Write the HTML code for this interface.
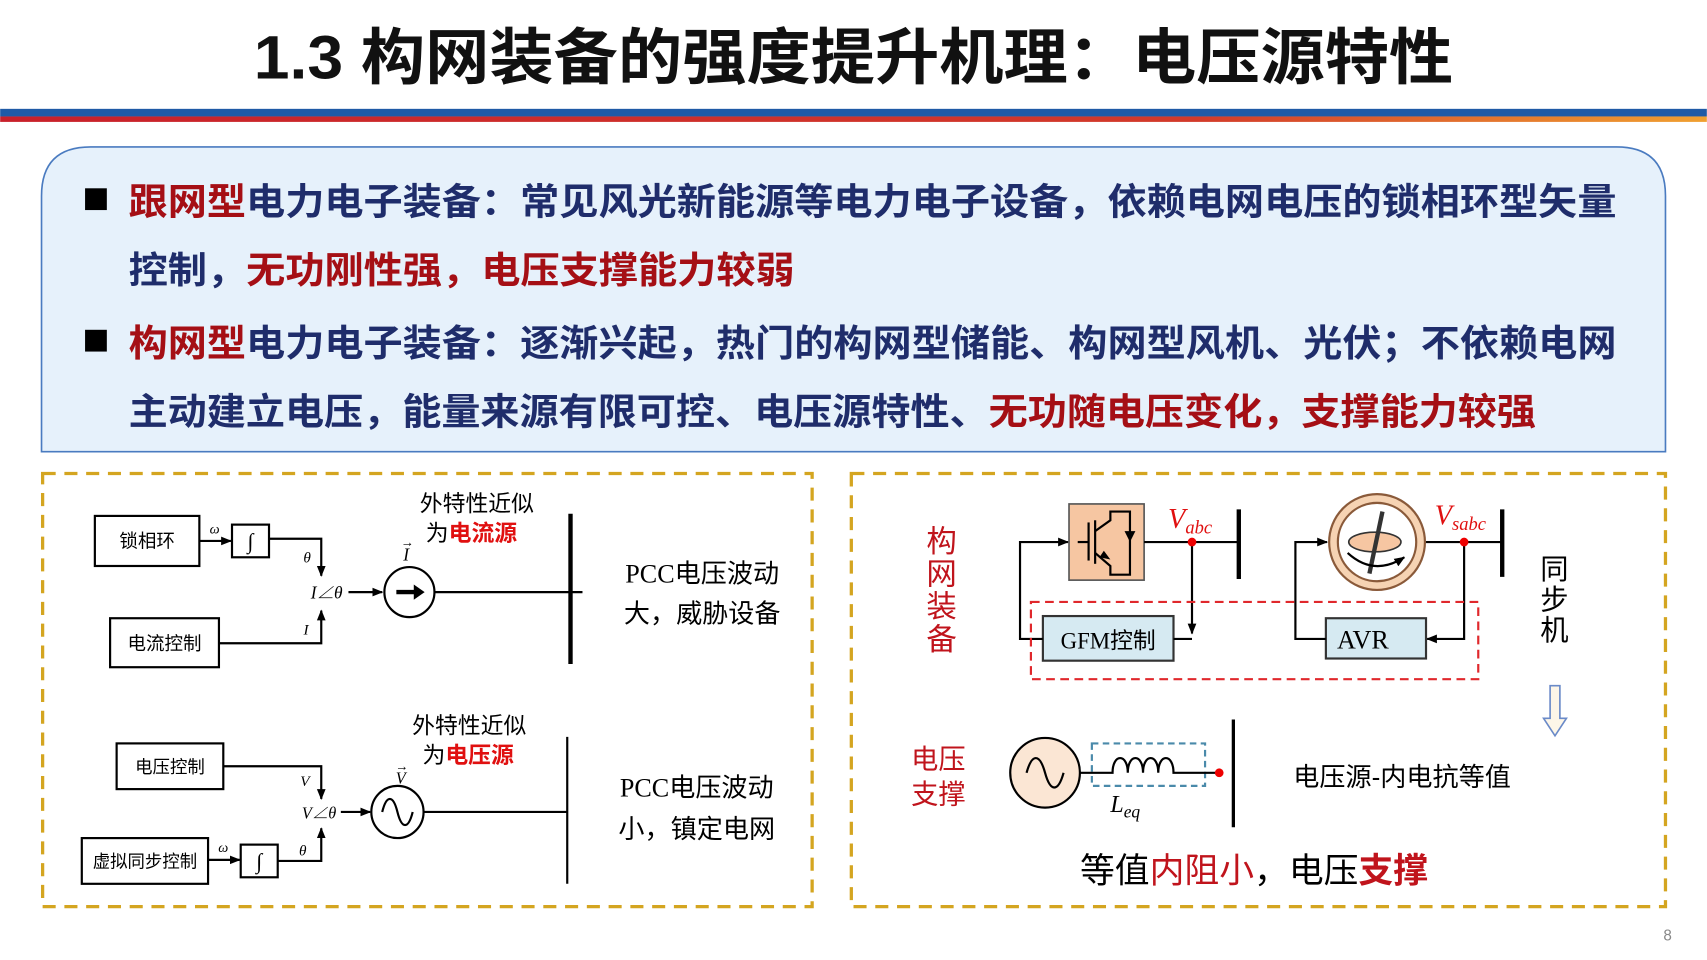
<!DOCTYPE html>
<html><head><meta charset="utf-8"><style>
html,body{margin:0;padding:0;background:#fff;}
svg{display:block;}
text{font-family:"Liberation Sans","Noto Sans CJK SC",sans-serif;}
.b{font-weight:bold;}
.nv{fill:#1f2d6b;}
.rd{fill:#a50f15;}
.cr{fill:#e01010;}
.ser{font-family:"Liberation Serif","Noto Serif CJK SC",serif;}
</style></head><body>
<svg width="1707" height="960" viewBox="0 0 1568 882" xmlns="http://www.w3.org/2000/svg">
<defs>
<marker id="ah" markerWidth="10" markerHeight="10" refX="9" refY="5" orient="auto" markerUnits="userSpaceOnUse"><path d="M0,1 L10,5 L0,9 z" fill="#000"/></marker>
<linearGradient id="og" x1="0" x2="1"><stop offset="0" stop-color="#c8202a"/><stop offset="0.7" stop-color="#d23a2a"/><stop offset="1" stop-color="#f0a030"/></linearGradient>
</defs>
<!-- title -->
<text x="784" y="72" text-anchor="middle" font-size="56" class="b" fill="#111" textLength="1102" lengthAdjust="spacingAndGlyphs">1.3 构网装备的强度提升机理：电压源特性</text>
<rect x="0" y="100" width="1568" height="7" fill="#1f5aa6"/>
<rect x="0" y="107" width="1568" height="5" fill="url(#og)"/>
<!-- blue panel -->
<path d="M38,415 L38,180 Q38,135 83,135 L1485,135 Q1530,135 1530,180 L1530,415 Z" fill="#e6f1fb" stroke="#4a7bc0" stroke-width="1.5"/>
<rect x="78" y="173" width="20" height="20" fill="#000"/>
<text x="118" y="197" font-size="34" class="b" textLength="1367" lengthAdjust="spacingAndGlyphs"><tspan class="rd">跟网型</tspan><tspan class="nv">电力电子装备：常见风光新能源等电力电子设备，依赖电网电压的锁相环型矢量</tspan></text>
<text x="118" y="260" font-size="34" class="b" textLength="612" lengthAdjust="spacingAndGlyphs"><tspan class="nv">控制，</tspan><tspan class="rd">无功刚性强，电压支撑能力较弱</tspan></text>
<rect x="78" y="303" width="20" height="20" fill="#000"/>
<text x="118" y="327" font-size="34" class="b" textLength="1367" lengthAdjust="spacingAndGlyphs"><tspan class="rd">构网型</tspan><tspan class="nv">电力电子装备：逐渐兴起，热门的构网型储能、构网型风机、光伏；不依赖电网</tspan></text>
<text x="118" y="390" font-size="34" class="b" textLength="1293" lengthAdjust="spacingAndGlyphs"><tspan class="nv">主动建立电压，能量来源有限可控、电压源特性、</tspan><tspan class="rd">无功随电压变化，支撑能力较强</tspan></text>

<!-- dashed boxes -->
<rect x="39" y="435" width="707" height="398" fill="none" stroke="#d4a520" stroke-width="3" stroke-dasharray="12,8"/>
<rect x="782" y="435" width="748" height="398" fill="none" stroke="#d4a520" stroke-width="3" stroke-dasharray="12,8"/>

<!-- LEFT TOP -->
<g stroke="#000" stroke-width="2" fill="none">
<rect x="87" y="474" width="96" height="46" fill="#fff"/>
<line x1="183" y1="497" x2="212" y2="497" marker-end="url(#ah)"/>
<rect x="213" y="482" width="34" height="30" fill="#fff"/>
<polyline points="247,495 295,495 295,529" marker-end="url(#ah)"/>
<line x1="320" y1="544" x2="351" y2="544" marker-end="url(#ah)"/>
<circle cx="376" cy="544" r="23"/>
<line x1="399" y1="544" x2="535" y2="544"/>
<rect x="101" y="568" width="100" height="45" fill="#fff"/>
<polyline points="201,591 295,591 295,561" marker-end="url(#ah)"/>
</g>
<path d="M364,544 L382,544" stroke="#000" stroke-width="4"/><path d="M380,537 L390,544 L380,551z" fill="#000"/>
<line x1="524" y1="472" x2="524" y2="610" stroke="#000" stroke-width="4"/>
<text x="135" y="503" font-size="17" text-anchor="middle">锁相环</text>
<text x="151" y="597" font-size="17" text-anchor="middle">电流控制</text>
<text x="197" y="490" font-size="13" class="ser" font-style="italic" text-anchor="middle">ω</text>
<text x="230" y="504" font-size="20" class="ser" font-style="italic" text-anchor="middle">∫</text>
<text x="282" y="517" font-size="14" class="ser" font-style="italic" text-anchor="middle">θ</text>
<text x="281" y="583" font-size="14" class="ser" font-style="italic" text-anchor="middle">I</text>
<text x="300" y="550" font-size="16" class="ser" font-style="italic" text-anchor="middle">I∠θ</text>
<text x="373" y="515" font-size="16" class="ser" font-style="italic" text-anchor="middle">I</text>
<text x="374" y="502" font-size="12" text-anchor="middle">→</text>
<text x="438" y="470" font-size="21" text-anchor="middle">外特性近似</text>
<text x="433" y="497" font-size="21" text-anchor="middle">为<tspan class="b cr">电流源</tspan></text>
<text x="645" y="535" font-size="24" text-anchor="middle"><tspan class="ser">PCC</tspan>电压波动</text>
<text x="645" y="572" font-size="24" text-anchor="middle">大，威胁设备</text>

<!-- LEFT BOTTOM -->
<g stroke="#000" stroke-width="2" fill="none">
<rect x="107" y="683" width="98" height="42" fill="#fff"/>
<polyline points="205,704 295,704 295,734" marker-end="url(#ah)"/>
<line x1="313" y1="746" x2="340" y2="746" marker-end="url(#ah)"/>
<circle cx="365" cy="746" r="24"/>
<path d="M351,746 C355,730 361,730 365,746 C369,762 375,762 379,746"/>
<line x1="389" y1="746" x2="521" y2="746"/>
<rect x="75" y="770" width="116" height="42" fill="#fff"/>
<line x1="191" y1="790" x2="220" y2="790" marker-end="url(#ah)"/>
<rect x="221" y="776" width="34" height="30" fill="#fff"/>
<polyline points="255,791 295,791 295,761" marker-end="url(#ah)"/>
</g>
<line x1="521" y1="677" x2="521" y2="812" stroke="#000" stroke-width="2"/>
<text x="156" y="710" font-size="16" text-anchor="middle">电压控制</text>
<text x="133" y="797" font-size="16" text-anchor="middle">虚拟同步控制</text>
<text x="205" y="783" font-size="13" class="ser" font-style="italic" text-anchor="middle">ω</text>
<text x="238" y="798" font-size="20" class="ser" font-style="italic" text-anchor="middle">∫</text>
<text x="280" y="722" font-size="14" class="ser" font-style="italic" text-anchor="middle">V</text>
<text x="278" y="786" font-size="14" class="ser" font-style="italic" text-anchor="middle">θ</text>
<text x="293" y="752" font-size="15" class="ser" font-style="italic" text-anchor="middle">V∠θ</text>
<text x="368" y="720" font-size="15" class="ser" font-style="italic" text-anchor="middle">V</text>
<text x="369" y="708" font-size="12" text-anchor="middle">→</text>
<text x="431" y="674" font-size="21" text-anchor="middle">外特性近似</text>
<text x="430" y="701" font-size="21" text-anchor="middle">为<tspan class="b cr">电压源</tspan></text>
<text x="640" y="732" font-size="24" text-anchor="middle"><tspan class="ser">PCC</tspan>电压波动</text>
<text x="640" y="770" font-size="24" text-anchor="middle">小，镇定电网</text>

<!-- RIGHT -->
<text x="865" y="507" font-size="28" fill="#c0141c" text-anchor="middle">构</text>
<text x="865" y="537" font-size="28" fill="#c0141c" text-anchor="middle">网</text>
<text x="865" y="567" font-size="28" fill="#c0141c" text-anchor="middle">装</text>
<text x="865" y="597" font-size="28" fill="#c0141c" text-anchor="middle">备</text>
<rect x="982" y="463" width="69" height="70" fill="#f6c6a2" stroke="#555" stroke-width="1.5"/>
<g stroke="#000" stroke-width="2" fill="none">
<line x1="1000" y1="480" x2="1000" y2="515"/><line x1="1006" y1="478" x2="1006" y2="518"/>
<polyline points="990,498 1000,498"/>
<polyline points="1006,488 1020,478 1020,470 1038,470 1038,528 1020,528 1020,520 1006,508"/>
<line x1="1051" y1="498" x2="1138" y2="498"/>
<polyline points="1095,498 1095,582" marker-end="url(#ah)"/>
<rect x="958" y="566" width="120" height="41" fill="#d6eaf2" stroke="#333"/>
<line x1="1078" y1="587" x2="1095" y2="587"/>
<polyline points="958,587 937,587 937,498 981,498" marker-end="url(#ah)"/>
<line x1="1310" y1="498" x2="1380" y2="498"/>
<polyline points="1345,498 1345,587 1311,587" marker-end="url(#ah)"/>
<rect x="1218" y="568" width="92" height="37" fill="#d6eaf2" stroke="#333"/>
<polyline points="1218,587 1190,587 1190,498 1219,498" marker-end="url(#ah)"/>
</g>
<path d="M1033,488 L1043,488 L1038,498z M1014,506 L1020,514 L1010,512z" fill="#000"/>
<line x1="1138" y1="468" x2="1138" y2="532" stroke="#000" stroke-width="4"/>
<line x1="1380" y1="468" x2="1380" y2="530" stroke="#000" stroke-width="4"/>
<circle cx="1095" cy="498" r="4" fill="#e00"/>
<circle cx="1345" cy="498" r="4" fill="#e00"/>
<text x="1073" y="485" font-size="26" fill="#e01010" class="ser" font-style="italic">V<tspan font-size="17" dy="5">abc</tspan></text>
<text x="1318" y="482" font-size="26" fill="#e01010" class="ser" font-style="italic">V<tspan font-size="17" dy="5">sabc</tspan></text>
<circle cx="1265" cy="498" r="44" fill="#f6d3b3" stroke="#8a5a3a" stroke-width="2"/>
<circle cx="1265" cy="498" r="36" fill="#fff" stroke="#8a5a3a" stroke-width="2"/>
<ellipse cx="1263" cy="498" rx="24" ry="9" fill="#f6c6a2" stroke="#333" stroke-width="1.5"/>
<line x1="1270" y1="470" x2="1258" y2="527" stroke="#333" stroke-width="4"/>
<path d="M1238,508 Q1262,530 1290,512" stroke="#000" stroke-width="2" fill="none" marker-end="url(#ah)"/>
<rect x="947" y="553" width="411" height="71" fill="none" stroke="#e0282c" stroke-width="2" stroke-dasharray="8,5"/>
<text x="1252" y="596" font-size="24" class="ser" text-anchor="middle">AVR</text>
<text x="1018" y="596" font-size="21" text-anchor="middle"><tspan class="ser">GFM</tspan>控制</text>
<text x="1428" y="532" font-size="26" text-anchor="middle">同</text>
<text x="1428" y="560" font-size="26" text-anchor="middle">步</text>
<text x="1428" y="588" font-size="26" text-anchor="middle">机</text>
<path d="M1424,630 L1433,630 L1433,660 L1439,660 L1428.5,676 L1418,660 L1424,660 Z" fill="#fdf6e8" stroke="#6a8ac8" stroke-width="1.5"/>
<text x="862" y="706" font-size="25" fill="#c0141c" text-anchor="middle">电压</text>
<text x="862" y="738" font-size="25" fill="#c0141c" text-anchor="middle">支撑</text>
<circle cx="960" cy="710" r="32" fill="#fbe6d4" stroke="#000" stroke-width="2"/>
<path d="M943,710 C948,692 955,692 960,710 C965,728 972,728 977,710" stroke="#000" stroke-width="2" fill="none"/>
<rect x="1003" y="683" width="104" height="39" fill="none" stroke="#4a8aaa" stroke-width="2" stroke-dasharray="6,4"/>
<path d="M992,710 L1022,710 C1022,692 1036,692 1036,710 C1036,692 1050,692 1050,710 C1050,692 1064,692 1064,710 C1064,692 1078,692 1078,710 L1120,710" stroke="#000" stroke-width="2" fill="none"/>
<circle cx="1120" cy="710" r="4" fill="#e00"/>
<line x1="1133" y1="661" x2="1133" y2="760" stroke="#000" stroke-width="3"/>
<text x="1020" y="746" font-size="22" class="ser" font-style="italic">L<tspan font-size="16" dy="5">eq</tspan></text>
<text x="1288" y="722" font-size="24" text-anchor="middle">电压源-内电抗等值</text>
<text x="1152" y="811" font-size="32" text-anchor="middle">等值<tspan fill="#c0141c">内阻小</tspan>，电压<tspan fill="#c0141c" class="b">支撑</tspan></text>
<text x="1532" y="864" font-size="14" fill="#888" text-anchor="middle">8</text>
</svg>
</body></html>
